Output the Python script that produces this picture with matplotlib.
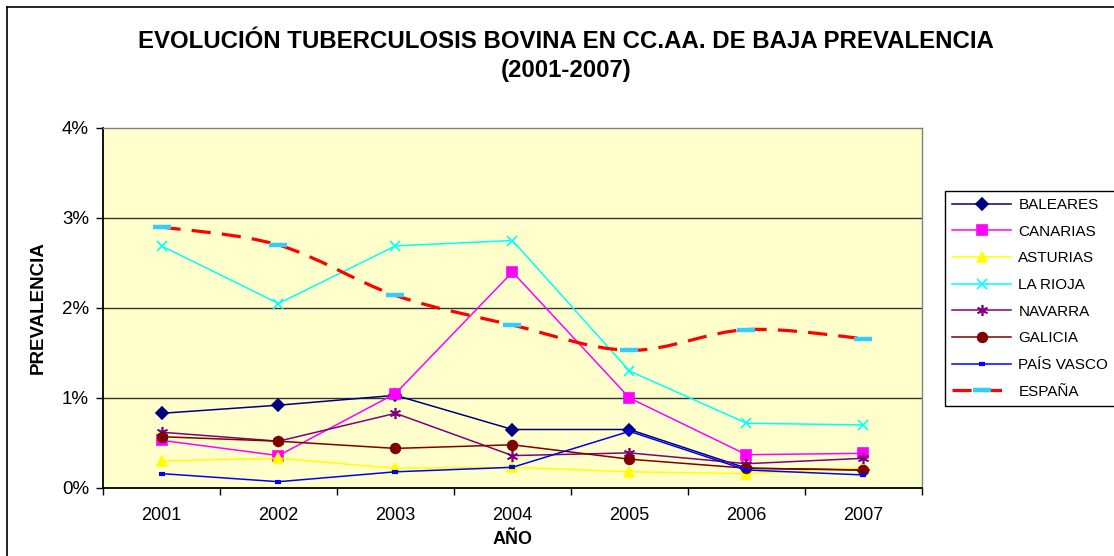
import matplotlib
matplotlib.use("Agg")
import matplotlib.pyplot as plt
import numpy as np
from matplotlib.lines import Line2D
from matplotlib.path import Path
from matplotlib.patches import PathPatch
from matplotlib.ticker import FuncFormatter, FixedLocator

plt.rcParams["font.family"] = ["Liberation Sans", "DejaVu Sans"]

years = ["2001", "2002", "2003", "2004", "2005", "2006", "2007"]

# prevalence, %
baleares = [0.83, 0.92, 1.03, 0.65, 0.65, 0.22, 0.20]
canarias = [0.53, 0.36, 1.05, 2.40, 1.00, 0.37, 0.385]
asturias = [0.30, 0.33, 0.22, 0.23, 0.18, 0.16, 0.22]
la_rioja = [2.69, 2.05, 2.69, 2.75, 1.30, 0.72, 0.70]
navarra = [0.62, 0.52, 0.83, 0.36, 0.39, 0.27, 0.33]
galicia = [0.57, 0.52, 0.44, 0.48, 0.32, 0.22, 0.20]
pais_vasco = [0.16, 0.07, 0.18, 0.23, 0.63, 0.20, 0.145]
espana = [2.90, 2.70, 2.14, 1.81, 1.53, 1.76, 1.66]

series = [
    ("BALEARES", baleares, "#000080", "D", 6, "#000080"),
    ("CANARIAS", canarias, "#FF00FF", "s", 6.5, "#FF00FF"),
    ("ASTURIAS", asturias, "#FFFF00", "^", 7.5, "#FFFF00"),
    ("LA RIOJA", la_rioja, "#00FFFF", "x", 7, "#00FFFF"),
    ("NAVARRA", navarra, "#800080", (6, 2, 0), 8, "#800080"),
    ("GALICIA", galicia, "#800000", "o", 7, "#800000"),
    ("PAÍS VASCO", pais_vasco, "#0000FF", "_", 5, "#0000FF"),
]

W, H = 1114, 556
fig = plt.figure(figsize=(W / 100, H / 100), dpi=100)
ax = fig.add_axes([103 / W, 1 - 488 / H, (922 - 103) / W, (488 - 128) / H])
ax.set_facecolor("#FFFFCC")

x = np.arange(1, len(years) + 1)

for y in [1, 2, 3]:
    ax.axhline(y, color="#333333", lw=1.0, zorder=1)

handles = []
for name, vals, col, mk, ms, mfc in series:
    mew = 3 if mk == "_" else 1.2
    ln, = ax.plot(x, vals, color=col, lw=1.1, marker=mk, markersize=ms,
                  markerfacecolor=mfc, markeredgecolor=col, markeredgewidth=mew,
                  zorder=3, label=name)
    handles.append(ln)

# España: smoothed dashed curve (Bezier through the data points)
pts = np.column_stack([x, espana]).astype(float)
verts = [tuple(pts[0])]
codes = [Path.MOVETO]
n = len(pts)
for i in range(n - 1):
    p0 = pts[i - 1] if i > 0 else pts[i]
    p1 = pts[i]
    p2 = pts[i + 1]
    p3 = pts[i + 2] if i + 2 < n else pts[i + 1]
    c1 = p1 + (p2 - p0) / 6.0
    c2 = p2 - (p3 - p1) / 6.0
    verts += [tuple(c1), tuple(c2), tuple(p2)]
    codes += [Path.CURVE4] * 3
curve = PathPatch(Path(verts, codes), fill=False, edgecolor="#FF0000", lw=2.3,
                  linestyle=(0, (6, 3.5)), zorder=4)
ax.add_patch(curve)
ax.plot(x, espana, ls="none", marker="_", markersize=13, markeredgewidth=3.2,
        color="#33CCFF", zorder=5)
handles.append(Line2D([0], [0], color="#FF0000", lw=2.3, ls=(0, (6, 3.5)),
                      marker="_", markersize=13, markeredgewidth=3.2,
                      markeredgecolor="#33CCFF", label="ESPAÑA"))

ax.set_xlim(0.5, len(years) + 0.5)
ax.set_ylim(0, 4)
ax.set_yticks([0, 1, 2, 3, 4])
ax.yaxis.set_major_formatter(FuncFormatter(lambda v, p: f"{v:.0f}%"))
ax.set_xticks(x)
ax.set_xticklabels(years)
ax.xaxis.set_minor_locator(FixedLocator(np.arange(0.5, len(years) + 1, 1.0)))
ax.tick_params(axis="x", which="major", length=0, pad=14, labelsize=13)
ax.tick_params(axis="x", which="minor", length=5, width=1, color="#000000", direction="out")
ax.tick_params(axis="y", length=5, width=1, direction="out", pad=5, labelsize=13.5)

for s in ["top", "right"]:
    ax.spines[s].set_color("#808080")
    ax.spines[s].set_linewidth(1.0)
for s in ["left", "bottom"]:
    ax.spines[s].set_color("#000000")
    ax.spines[s].set_linewidth(1.3)

ax.set_xlabel("AÑO", fontsize=13, fontweight="bold", labelpad=5)
ax.set_ylabel("PREVALENCIA", fontsize=13.5, fontweight="bold", labelpad=11)

fig.text(566 / W, 1 - 41 / H, "EVOLUCIÓN TUBERCULOSIS BOVINA EN CC.AA. DE BAJA PREVALENCIA",
         ha="center", va="center", fontsize=17.3, fontweight="bold")
fig.text(566 / W, 1 - 71 / H, "(2001-2007)", ha="center", va="center",
         fontsize=17.3, fontweight="bold")

leg = fig.legend(handles=handles, loc="upper left",
                 bbox_to_anchor=(945 / W, 1 - 191 / H), fontsize=11,
                 frameon=True, fancybox=False, framealpha=1, edgecolor="#000000",
                 handlelength=3.9, handletextpad=0.45, labelspacing=0.83,
                 borderpad=0.45, borderaxespad=0)
leg.get_frame().set_linewidth(1.0)

# chart outer frame (cropped at right and bottom)
fig.add_artist(Line2D([7 / W, 7 / W], [0, 1 - 7 / H], transform=fig.transFigure,
                      color="#000000", lw=1.2))
fig.add_artist(Line2D([7 / W, 1], [1 - 7 / H, 1 - 7 / H], transform=fig.transFigure,
                      color="#000000", lw=1.2))

fig.savefig("out.png", dpi=100)
